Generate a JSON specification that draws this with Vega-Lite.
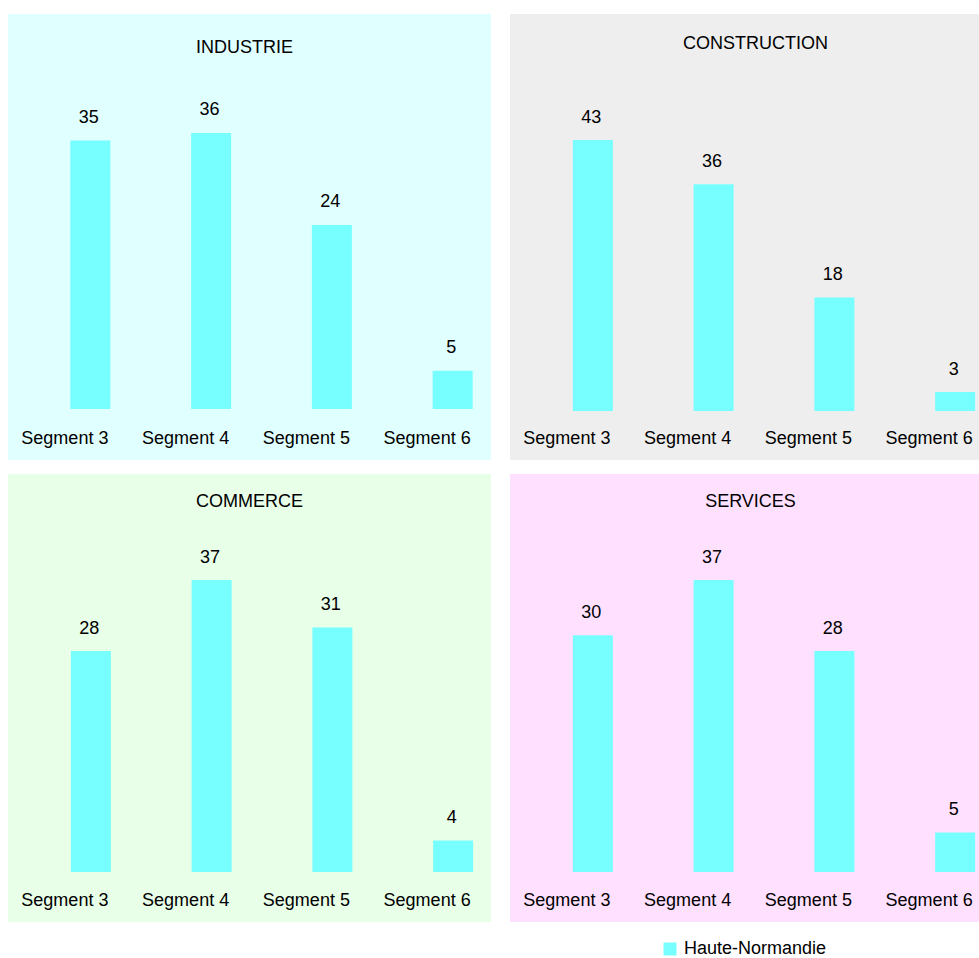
{
  "$schema": "https://vega.github.io/schema/vega-lite/v6.json",
  "background": "white",
  "padding": {"left": 8, "top": 14, "right": 0, "bottom": 0},
  "config": {
    "font": "Liberation Sans",
    "view": {"stroke": null},
    "axis": {"labelFont": "Liberation Sans", "labelColor": "#000"},
    "title": {"font": "Liberation Sans", "color": "#000", "fontWeight": "normal", "fontSize": 18}
  },
  "data": {
    "values": [
      {"sector": "INDUSTRIE", "segment": "Segment 3", "value": 35, "series": "Haute-Normandie"},
      {"sector": "INDUSTRIE", "segment": "Segment 4", "value": 36, "series": "Haute-Normandie"},
      {"sector": "INDUSTRIE", "segment": "Segment 5", "value": 24, "series": "Haute-Normandie"},
      {"sector": "INDUSTRIE", "segment": "Segment 6", "value": 5, "series": "Haute-Normandie"},
      {"sector": "CONSTRUCTION", "segment": "Segment 3", "value": 43, "series": "Haute-Normandie"},
      {"sector": "CONSTRUCTION", "segment": "Segment 4", "value": 36, "series": "Haute-Normandie"},
      {"sector": "CONSTRUCTION", "segment": "Segment 5", "value": 18, "series": "Haute-Normandie"},
      {"sector": "CONSTRUCTION", "segment": "Segment 6", "value": 3, "series": "Haute-Normandie"},
      {"sector": "COMMERCE", "segment": "Segment 3", "value": 28, "series": "Haute-Normandie"},
      {"sector": "COMMERCE", "segment": "Segment 4", "value": 37, "series": "Haute-Normandie"},
      {"sector": "COMMERCE", "segment": "Segment 5", "value": 31, "series": "Haute-Normandie"},
      {"sector": "COMMERCE", "segment": "Segment 6", "value": 4, "series": "Haute-Normandie"},
      {"sector": "SERVICES", "segment": "Segment 3", "value": 30, "series": "Haute-Normandie"},
      {"sector": "SERVICES", "segment": "Segment 4", "value": 37, "series": "Haute-Normandie"},
      {"sector": "SERVICES", "segment": "Segment 5", "value": 28, "series": "Haute-Normandie"},
      {"sector": "SERVICES", "segment": "Segment 6", "value": 5, "series": "Haute-Normandie"}
    ]
  },
  "spacing": 14,
  "vconcat": [
    {
      "spacing": 19,
      "hconcat": [
        {
          "width": 483, "height": 446,
          "view": {"fill": "#E0FFFF", "stroke": null},
          "title": {"text": "INDUSTRIE", "anchor": "middle", "frame": "group", "offset": -57, "baseline": "alphabetic", "dx": -5},
          "transform": [{"filter": "datum.sector === 'INDUSTRIE'"}],
          "encoding": {
            "x": {"field": "segment", "type": "nominal", "sort": null,
                  "scale": {"paddingInner": 0, "paddingOuter": 0},
                  "axis": {"title": null, "labelAngle": 0, "ticks": false, "tickSize": 0, "domain": false, "grid": false, "labelPadding": 0, "labelBaseline": "alphabetic", "offset": -17, "labelOffset": -3.5, "labelFontSize": 18}},
            "y": {"field": "value", "type": "quantitative", "scale": {"domain": [-6.65, 51.5], "nice": false, "zero": false}, "axis": null}
          },
          "layer": [
            {"mark": {"type": "bar", "width": 40, "xOffset": 22},
             "encoding": {"color": {"field": "series", "type": "nominal", "scale": {"range": ["#77FFFF"]},
               "legend": {"orient": "none", "legendX": 653, "legendY": 926, "title": null, "symbolType": "square", "symbolSize": 169, "symbolStrokeWidth": 0, "labelFontSize": 18, "labelOffset": 5, "padding": 0, "labelColor": "#000", "labelFont": "Liberation Sans"}}}},
            {"mark": {"type": "text", "dy": -17.5, "xOffset": 20.5, "baseline": "alphabetic", "fontSize": 18, "color": "#000"},
             "encoding": {"text": {"field": "value", "type": "quantitative"}}}
          ]
        },
        {
          "width": 469, "height": 446,
          "view": {"fill": "#EEEEEE", "stroke": null},
          "title": {"text": "CONSTRUCTION", "anchor": "middle", "frame": "group", "offset": -53, "baseline": "alphabetic", "dx": 11},
          "transform": [{"filter": "datum.sector === 'CONSTRUCTION'"}],
          "encoding": {
            "x": {"field": "segment", "type": "nominal", "sort": null,
                  "scale": {"paddingInner": 0, "paddingOuter": 0, "range": [0, 483]},
                  "axis": {"title": null, "labelAngle": 0, "ticks": false, "tickSize": 0, "domain": false, "grid": false, "labelPadding": 0, "labelBaseline": "alphabetic", "offset": -17, "labelOffset": -3.5, "labelFontSize": 18}},
            "y": {"field": "value", "type": "quantitative", "scale": {"domain": [-7.78, 63.02], "nice": false, "zero": false}, "axis": null}
          },
          "layer": [
            {"mark": {"type": "bar", "width": 40, "xOffset": 22.5},
             "encoding": {"color": {"field": "series", "type": "nominal", "scale": {"range": ["#77FFFF"]}}}},
            {"mark": {"type": "text", "dy": -17.5, "xOffset": 21, "baseline": "alphabetic", "fontSize": 18, "color": "#000"},
             "encoding": {"text": {"field": "value", "type": "quantitative"}}}
          ]
        }
      ]
    },
    {
      "spacing": 19,
      "hconcat": [
        {
          "width": 483, "height": 448,
          "view": {"fill": "#E8FFE8", "stroke": null},
          "title": {"text": "COMMERCE", "anchor": "middle", "frame": "group", "offset": -51, "baseline": "alphabetic"},
          "transform": [{"filter": "datum.sector === 'COMMERCE'"}],
          "encoding": {
            "x": {"field": "segment", "type": "nominal", "sort": null,
                  "scale": {"paddingInner": 0, "paddingOuter": 0},
                  "axis": {"title": null, "labelAngle": 0, "ticks": false, "tickSize": 0, "domain": false, "grid": false, "labelPadding": 0, "labelBaseline": "alphabetic", "offset": -17, "labelOffset": -3.5, "labelFontSize": 18}},
            "y": {"field": "value", "type": "quantitative", "scale": {"domain": [-6.34, 50.44], "nice": false, "zero": false}, "axis": null}
          },
          "layer": [
            {"mark": {"type": "bar", "width": 40, "xOffset": 22.5},
             "encoding": {"color": {"field": "series", "type": "nominal", "scale": {"range": ["#77FFFF"]}}}},
            {"mark": {"type": "text", "dy": -17.5, "xOffset": 21, "baseline": "alphabetic", "fontSize": 18, "color": "#000"},
             "encoding": {"text": {"field": "value", "type": "quantitative"}}}
          ]
        },
        {
          "width": 469, "height": 448,
          "view": {"fill": "#FFE0FF", "stroke": null},
          "title": {"text": "SERVICES", "anchor": "middle", "frame": "group", "offset": -51, "baseline": "alphabetic", "dx": 6},
          "transform": [{"filter": "datum.sector === 'SERVICES'"}],
          "encoding": {
            "x": {"field": "segment", "type": "nominal", "sort": null,
                  "scale": {"paddingInner": 0, "paddingOuter": 0, "range": [0, 483]},
                  "axis": {"title": null, "labelAngle": 0, "ticks": false, "tickSize": 0, "domain": false, "grid": false, "labelPadding": 0, "labelBaseline": "alphabetic", "offset": -17, "labelOffset": -3.5, "labelFontSize": 18}},
            "y": {"field": "value", "type": "quantitative", "scale": {"domain": [-6.34, 50.44], "nice": false, "zero": false}, "axis": null}
          },
          "layer": [
            {"mark": {"type": "bar", "width": 40, "xOffset": 22.5},
             "encoding": {"color": {"field": "series", "type": "nominal", "scale": {"range": ["#77FFFF"]}}}},
            {"mark": {"type": "text", "dy": -17.5, "xOffset": 21, "baseline": "alphabetic", "fontSize": 18, "color": "#000"},
             "encoding": {"text": {"field": "value", "type": "quantitative"}}}
          ]
        }
      ]
    }
  ]
}
